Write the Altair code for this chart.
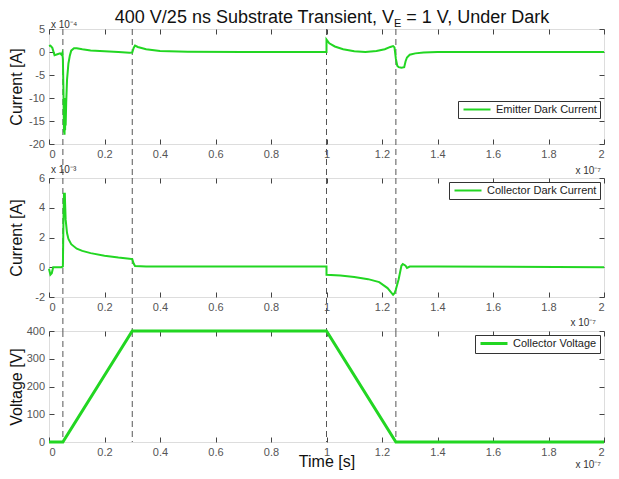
import altair as alt
import pandas as pd

# ---------------- data (time in units of 1e-7 s) ----------------
event_times = [0.05, 0.3, 1.0, 1.25]

emit_t = [0.0, 0.005, 0.012, 0.02, 0.03, 0.04, 0.045, 0.048, 0.05, 0.052, 0.054, 0.055,
          0.056, 0.057, 0.058, 0.059, 0.06, 0.062, 0.065, 0.07, 0.075, 0.08, 0.09, 0.1,
          0.12, 0.15, 0.2, 0.25, 0.29, 0.3, 0.305, 0.31, 0.32, 0.35, 0.4, 0.5, 0.7, 1.0,
          1.0, 1.01, 1.03, 1.06, 1.1, 1.14, 1.18, 1.21, 1.23, 1.24, 1.245, 1.25, 1.255,
          1.26, 1.27, 1.28, 1.285, 1.29, 1.3, 1.32, 1.35, 1.4, 1.6, 2.0]
emit_v = [1.3, 1.4, 0.9, -0.7, -0.5, -0.3, -0.6, -0.2, -1.5, -8.0, -17.5, -12.0,
          -18.0, -10.0, -17.0, -12.0, -16.0, -11.0, -6.0, -2.5, -0.8, 0.3, 0.8, 0.8,
          0.6, 0.35, 0.15, 0.0, -0.15, -0.1, 0.9, 1.4, 1.1, 0.6, 0.2, 0.05, 0.0, 0.0,
          2.7, 1.9, 1.2, 0.6, 0.15, 0.0, 0.2, 0.6, 1.1, 1.3, 1.0, -1.5, -3.0,
          -3.3, -3.4, -3.3, -2.0, -1.2, -0.6, -0.3, -0.1, 0.0, 0.0, 0.0]

coll_t = [0.0, 0.005, 0.01, 0.015, 0.02, 0.045, 0.05, 0.052, 0.054, 0.056, 0.057, 0.058,
          0.06, 0.065, 0.07, 0.08, 0.1, 0.12, 0.15, 0.2, 0.25, 0.29, 0.3, 0.305, 0.31,
          0.35, 0.5, 1.0, 1.0, 1.05, 1.1, 1.15, 1.19, 1.22, 1.24, 1.245, 1.25, 1.26,
          1.27, 1.275, 1.285, 1.29, 1.3, 1.4, 2.0]
coll_v = [-0.1, -0.5, -0.4, 0.0, 0.0, 0.0, 0.05, 3.0, 5.0, 4.6, 5.0, 4.3,
          3.2, 2.3, 1.9, 1.55, 1.25, 1.1, 0.95, 0.78, 0.65, 0.57, 0.55, 0.25, 0.08,
          0.05, 0.05, 0.05, -0.5, -0.55, -0.65, -0.8, -1.0, -1.4, -1.85, -1.75, -1.5, -0.8,
          0.1, 0.22, 0.1, -0.05, 0.05, 0.05, 0.0]

volt_t = [0.0, 0.05, 0.3, 1.0, 1.25, 2.0]
volt_v = [0, 0, 400, 400, 0, 0]

x_ticks = [0, 0.2, 0.4, 0.6, 0.8, 1, 1.2, 1.4, 1.6, 1.8, 2]
emit_ticks = [-20, -15, -10, -5, 0, 5]
coll_ticks = [-2, 0, 2, 4, 6]
volt_ticks = [0, 100, 200, 300, 400]

title_parts = ["400 V/25 ns Substrate Transient, V", "E", "= 1 V, Under Dark"]

# ---------------- style ----------------
GREEN = "#22d622"
FONT = "Liberation Sans"
AXC = "#444444"
LABC = "#555555"
W = 555
H1, H2, H3 = 115, 119, 111
GAP = 34


def txt(label, x, y, size, align="left", color="#333333", baseline="alphabetic"):
    return alt.Chart(pd.DataFrame({"label": [label]})).mark_text(
        align=align, baseline=baseline, font=FONT, fontSize=size, color=color
    ).encode(x=alt.value(x), y=alt.value(y), text="label:N")


def panel(t, v, name, y_dom, y_ticks, y_title, h, sw, legend, rule_len, x_title, extras):
    df = pd.DataFrame({"t": t, "v": v, "i": list(range(len(t))), "s": [name] * len(t)})
    xs = alt.Scale(domain=[0, 2], nice=False, zero=False)
    ys = alt.Scale(domain=y_dom, nice=False, zero=False)
    common = dict(offset=-5, tickSize=5, domain=False, grid=False, tickColor=AXC,
                  labelFont=FONT, labelFontSize=11, labelColor=LABC)
    if x_title:
        x_axis = alt.Axis(orient="bottom", values=x_ticks, labelExpr="'' + datum.value",
                          labelPadding=4, title=x_title, titleFont=FONT, titleFontSize=16,
                          titleFontWeight="normal", titleColor="#111111",
                          titleBaseline="alphabetic", titleX=W / 2, titleY=29, **common)
    else:
        x_axis = alt.Axis(orient="bottom", values=x_ticks, labelExpr="'' + datum.value",
                          labelPadding=4, title=None, **common)
    y_axis = alt.Axis(orient="left", values=y_ticks, labelExpr="'' + datum.value",
                      labelPadding=4.5, title=y_title, titleFont=FONT, titleFontSize=16,
                      titleFontWeight="normal", titleColor="#111111",
                      titleBaseline="alphabetic", titleAngle=270, titleX=-32.5, titleY=h / 2,
                      **common)
    top_axis = alt.Axis(orient="top", values=x_ticks, labels=False, title=None, **common)
    right_axis = alt.Axis(orient="right", values=y_ticks, labels=False, title=None, **common)

    rules = alt.Chart(pd.DataFrame({"t": event_times})).mark_rule(
        color="#555555", strokeWidth=1, strokeDash=[6, 4]
    ).encode(x=alt.X("t:Q", scale=xs, axis=None), y=alt.value(0), y2=alt.value(rule_len))

    line = alt.Chart(df).mark_line(strokeWidth=sw).encode(
        x=alt.X("t:Q", scale=xs, axis=x_axis),
        y=alt.Y("v:Q", scale=ys, axis=y_axis),
        order="i:Q",
        color=alt.Color("s:N", scale=alt.Scale(domain=[name], range=[GREEN]), legend=legend),
    )
    ghost = alt.Chart(df).mark_line(strokeOpacity=0).encode(
        x=alt.X("t:Q", scale=xs, axis=top_axis),
        y=alt.Y("v:Q", scale=ys, axis=right_axis),
        order="i:Q",
    )
    return alt.layer(rules, line, ghost, *extras).resolve_axis(
        x="independent", y="independent"
    ).properties(width=W, height=h)


def leg(sw, **kw):
    return alt.Legend(title=None, symbolType="M-1,0H8", symbolSize=36, symbolStrokeWidth=sw,
                      labelFont=FONT, labelFontSize=11, labelColor="#222222",
                      strokeColor="#333333", fillColor="white", padding=3,
                      labelOffset=24, **kw)


# title pieces (centered over plot area)
xE = 345.0
title_marks = [
    txt(title_parts[0], xE, -6.5, 18, align="right", color="#111111"),
    txt(title_parts[1], xE, -2, 11, align="left", color="#111111"),
    txt(title_parts[2], xE + 12.3, -6.5, 18, align="left", color="#111111"),
]

p1 = panel(emit_t, emit_v, "Emitter Dark Current", [-20, 5], emit_ticks, "Current [A]", H1, 2,
           leg(2, orient="none", legendX=409, legendY=72), H1 + GAP, None,
           title_marks + [txt("x 10\u207b\u2074", 2, -1, 10),
                          txt("x 10\u207b\u2077", W - 3, H1 + 30, 10, align="right")])
p2 = panel(coll_t, coll_v, "Collector Dark Current", [-2, 6], coll_ticks, "Current [A]", H2, 2,
           leg(2, orient="top-right", offset=4), H2 + GAP, None,
           [txt("x 10\u207b\u00b3", 2, -5, 10),
            txt("x 10\u207b\u2077", W - 8, H2 + 29, 10, align="right")])
p3 = panel(volt_t, volt_v, "Collector Voltage", [0, 400], volt_ticks, "Voltage [V]", H3, 3,
           leg(3, orient="top-right", offset=4), H3, "Time [s]",
           [txt("x 10\u207b\u2077", W - 3, H3 + 26, 10, align="right")])

chart = alt.vconcat(p1, p2, p3, spacing=GAP, bounds="flush").resolve_scale(
    color="independent"
).properties(
    padding=0, background="white"
).configure_view(stroke=AXC, strokeWidth=1).configure(font=FONT)

chart.save("out.html", embed_options={"renderer": "svg", "actions": False})
